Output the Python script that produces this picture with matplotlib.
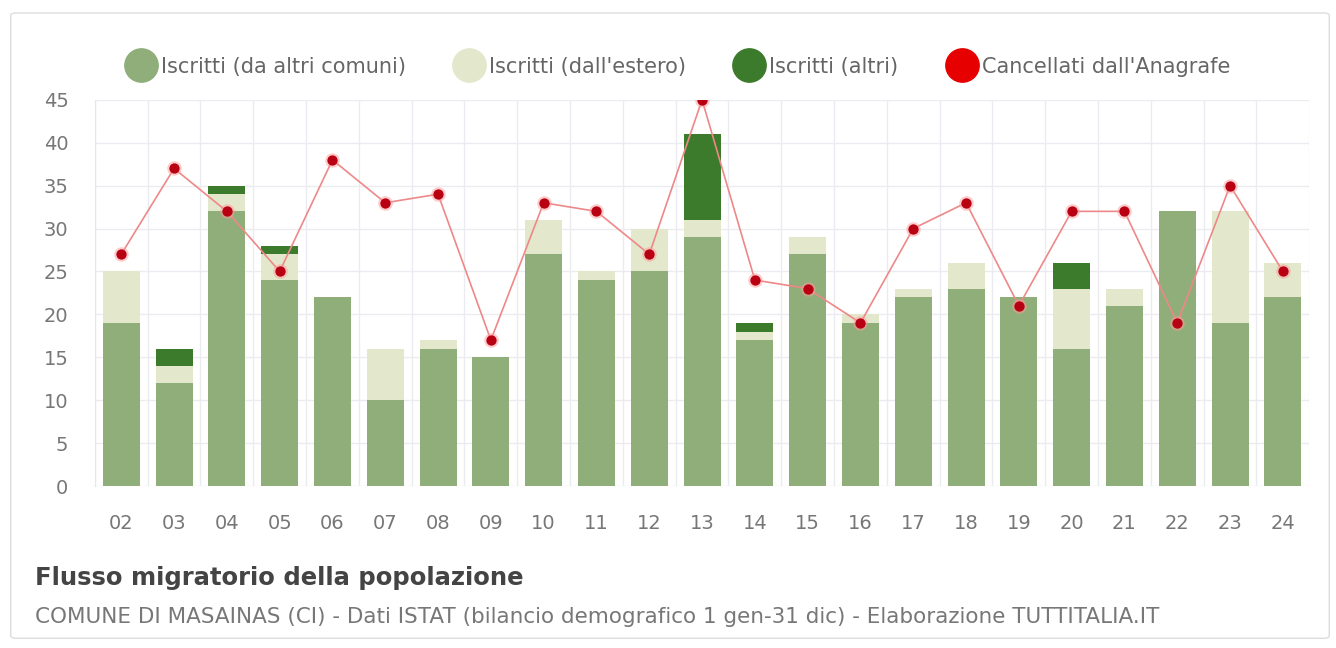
import matplotlib.pyplot as plt
from matplotlib.patches import FancyBboxPatch
from matplotlib.lines import Line2D
import numpy as np

years = ["02", "03", "04", "05", "06", "07", "08", "09", "10", "11", "12", "13",
         "14", "15", "16", "17", "18", "19", "20", "21", "22", "23", "24"]
iscritti_comuni = [19, 12, 32, 24, 22, 10, 16, 15, 27, 24, 25, 29,
                   17, 27, 19, 22, 23, 22, 16, 21, 32, 19, 22]
iscritti_estero = [6, 2, 2, 3, 0, 6, 1, 0, 4, 1, 5, 2,
                   1, 2, 1, 1, 3, 0, 7, 2, 0, 13, 4]
iscritti_altri = [0, 2, 1, 1, 0, 0, 0, 0, 0, 0, 0, 10,
                  1, 0, 0, 0, 0, 0, 3, 0, 0, 0, 0]
cancellati = [27, 37, 32, 25, 38, 33, 34, 17, 33, 32, 27, 45,
              24, 23, 19, 30, 33, 21, 32, 32, 19, 35, 25]

c_comuni = "#8fae79"
c_estero = "#e3e8cc"
c_altri = "#3c7a2c"
txt_gray = "#777777"

fig = plt.figure(figsize=(13.36, 6.48), dpi=100)

# cornice esterna
fig.patches.append(FancyBboxPatch((0.008, 0.015), 0.987, 0.965,
                                  boxstyle="round,pad=0,rounding_size=0.004",
                                  transform=fig.transFigure, fill=False,
                                  edgecolor="#dddddd", linewidth=1))

ax = fig.add_axes([0.071, 0.25, 0.909, 0.596])
x = np.arange(len(years))
b1 = np.array(iscritti_comuni)
b2 = b1 + np.array(iscritti_estero)

ax.bar(x, iscritti_comuni, width=0.7, color=c_comuni, zorder=2)
ax.bar(x, iscritti_estero, width=0.7, bottom=b1, color=c_estero, zorder=2)
ax.bar(x, iscritti_altri, width=0.7, bottom=b2, color=c_altri, zorder=2)
ax.plot(x, cancellati, color="#ee8888", linewidth=1.2, zorder=3)
ax.scatter(x, cancellati, s=110, color="#ff9a9a", alpha=0.5, zorder=4, linewidths=0)
ax.scatter(x, cancellati, s=55, color="#b80012", zorder=5, linewidths=0)

ax.set_xlim(-0.5, len(years) - 0.5)
ax.set_ylim(0, 45)
ax.set_yticks(range(0, 46, 5))
ax.set_xticks(x)
ax.set_xticklabels(years)
ax.set_xticks(np.arange(-0.5, len(years), 1), minor=True)
ax.grid(True, which="minor", axis="x", color="#ebebf2", linewidth=1, zorder=0)
ax.grid(True, which="major", axis="y", color="#ebebf2", linewidth=1, zorder=0)
ax.tick_params(axis="both", which="both", length=0, labelsize=14, colors=txt_gray)
ax.tick_params(axis="x", pad=20)
ax.tick_params(axis="y", pad=19)
for s in ["top", "right", "bottom"]:
    ax.spines[s].set_visible(False)
ax.spines["left"].set_color("#e6e6e6")

handles = [
    Line2D([], [], marker="o", linestyle="", markersize=24, color=c_comuni),
    Line2D([], [], marker="o", linestyle="", markersize=24, color=c_estero),
    Line2D([], [], marker="o", linestyle="", markersize=24, color=c_altri),
    Line2D([], [], marker="o", linestyle="", markersize=24, color="#e60000"),
]
labels = ["Iscritti (da altri comuni)", "Iscritti (dall'estero)",
          "Iscritti (altri)", "Cancellati dall'Anagrafe"]
leg = fig.legend(handles, labels, loc="center", bbox_to_anchor=(0.508, 0.897),
                 ncol=4, frameon=False, fontsize=15, handletextpad=0.3,
                 columnspacing=2.4, handlelength=1.3)
for t in leg.get_texts():
    t.set_color("#666666")

fig.text(0.026, 0.108, "Flusso migratorio della popolazione", fontsize=17.5,
         fontweight="bold", color="#444444", va="center")
fig.text(0.026, 0.048,
         "COMUNE DI MASAINAS (CI) - Dati ISTAT (bilancio demografico 1 gen-31 dic) - Elaborazione TUTTITALIA.IT",
         fontsize=15.5, color=txt_gray, va="center")

fig.savefig("out.png", dpi=100)
